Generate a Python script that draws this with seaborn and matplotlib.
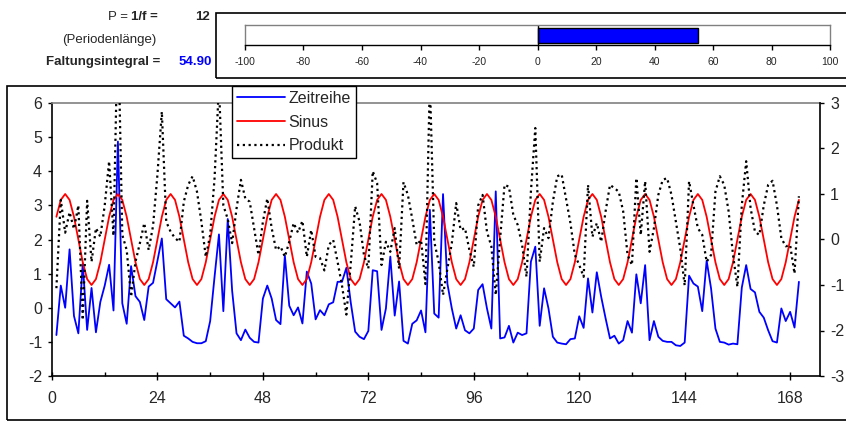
import numpy as np
import pandas as pd
import matplotlib
matplotlib.use("Agg")
import matplotlib.pyplot as plt
import seaborn as sns
from matplotlib.patches import Rectangle
from matplotlib.lines import Line2D
from matplotlib.ticker import MultipleLocator

sns.set_theme(style="white")
plt.rcParams['font.family'] = ['Liberation Sans', 'DejaVu Sans']
plt.rcParams['axes.unicode_minus'] = False

# ---------------- data ----------------
zeitreihe = [
    -0.80, 0.65, 0.00, 1.71, -0.24, -0.75, 1.30, -0.65, 0.58, -0.72,
    0.17, 0.65, 1.26, -0.08, 4.87, 0.13, -0.47, 1.22, 0.34, 0.17,
    -0.36, 0.62, 0.73, 1.38, 2.03, 0.25, 0.13, 0.01, 0.18, -0.82,
    -0.90, -1.00, -1.04, -1.04, -0.98, -0.39, 0.91, 2.15, -0.10, 2.60,
    0.50, -0.75, -0.95, -0.64, -0.88, -1.00, -1.02, 0.27, 0.65, 0.27,
    -0.36, -0.48, 1.53, 0.06, -0.22, 0.01, -0.46, 1.06, 0.71, -0.34,
    -0.07, -0.22, 0.10, 0.16, 0.76, 0.76, 1.17, 0.15, -0.70, -0.85,
    -0.92, -0.68, 1.10, 1.07, -0.65, -0.02, 1.50, -0.23, 0.77, -0.97,
    -1.05, -0.47, -0.37, -0.08, -0.72, 2.87, -0.17, -0.29, 3.33, 0.70,
    -0.02, -0.61, -0.22, -0.66, -0.75, -0.61, 0.52, 0.69, -0.02, -0.61,
    3.41, -0.90, -0.87, -0.53, -1.02, -0.73, -0.80, -0.75, 1.35, 1.79,
    -0.53, 0.57, -0.02, -0.85, -1.02, -1.05, -1.07, -0.92, -0.90, -0.25,
    -0.59, 0.86, -0.14, 1.04, 0.32, -0.31, -0.90, -0.82, -1.05, -0.95,
    -0.39, -0.73, 0.98, 0.13, 1.25, -0.95, -0.39, -0.85, -0.97, -1.00,
    -1.00, -1.10, -1.12, -1.02, 0.94, 0.71, 0.62, -0.10, 1.38, 0.57,
    -0.61, -1.00, -1.02, -1.08, -1.05, -1.07, 0.59, 1.25, 0.55, 0.45,
    -0.12, -0.29, -0.66, -0.98, -1.02, -0.02, -0.39, -0.12, -0.58, 0.76,
]

# one period (P = 12) of the sine
sinus_periode = [0.50, 0.87, 1.00, 0.87, 0.50, 0.00, -0.50, -0.87, -1.00, -0.87, -0.50, 0.00]

produkt = [
    -1.07, 0.87, 0.15, 0.60, 0.23, 0.75, -1.77, 0.85, -0.49, 0.25,
    0.06, 0.75, 1.72, 0.08, 4.87, 0.10, -0.23, -1.26, -0.49, -0.08,
    0.36, -0.23, 0.30, 1.43, 2.81, 0.39, 0.17, 0.03, -0.05, 0.83,
    1.20, 1.39, 1.05, 0.39, -0.38, 0.10, 1.35, 3.40, 0.75, 0.45,
    -0.08, 0.68, 1.31, 0.90, 0.83, 0.25, -0.34, 0.39, 0.90, 0.25,
    -0.23, -0.15, -0.38, -0.05, 0.36, 0.15, 0.41, -0.38, 0.21, -0.38,
    -0.41, -0.68, -0.12, -0.01, -0.49, -1.01, -1.65, -0.53, 0.73, 0.39,
    -0.34, -0.64, 1.50, 1.24, -0.56, -0.05, -0.27, 0.25, -0.64, 1.26,
    0.98, 0.45, -0.12, -0.01, -0.98, 3.50, -0.05, -0.49, -1.22, -0.64,
    -0.08, 0.80, 0.21, 0.25, -0.23, -0.60, 0.75, 0.98, 0.17, -0.15,
    -1.22, 0.03, 1.20, 1.16, 0.54, 0.32, -0.12, -0.82, 1.05, 2.45,
    -0.49, 0.25, 0.03, 0.83, 1.39, 1.43, 0.90, 0.36, -0.34, -0.56,
    -0.82, 1.20, 0.06, 0.36, -0.05, 0.62, 1.20, 1.13, 1.05, 0.62,
    -0.34, -0.56, 1.35, 0.10, 1.28, -0.27, 0.25, 0.98, 1.31, 1.35,
    0.98, 0.39, -0.20, -1.01, 1.28, 0.75, 0.25, 0.10, -0.49, -0.34,
    1.05, 1.39, 1.20, 0.62, -0.34, -1.04, 0.75, 1.72, 0.69, 0.17,
    0.10, 0.75, 1.20, 1.29, 0.75, 0.03, -0.15, -0.12, -0.75, 0.95,
]

periode = 12
faltungsintegral = 54.90
x_ticks = [0, 24, 48, 72, 96, 120, 144, 168]
y_left_ticks = [-2, -1, 0, 1, 2, 3, 4, 5, 6]
y_right_ticks = [-3, -2, -1, 0, 1, 2, 3]
bar_ticks = [-100, -80, -60, -40, -20, 0, 20, 40, 60, 80, 100]

t = np.arange(1, len(zeitreihe) + 1)
sinus = np.resize(np.array(sinus_periode), len(t))
df = pd.DataFrame({"t": t, "Zeitreihe": zeitreihe, "Sinus": sinus, "Produkt": produkt})

# ---------------- figure ----------------
W, H = 846, 421
fig = plt.figure(figsize=(W / 100, H / 100), dpi=100)
fig.patch.set_facecolor("white")

def fx(px):
    return px / W

def fy(py):
    return 1 - py / H

PT = 72 / 100  # points per pixel
DOT = (0, (1.0, 1.6))

# frames
fig.patches.append(Rectangle((fx(7), fy(420)), fx(850) - fx(7), fy(86) - fy(420),
                             transform=fig.transFigure, fill=False, edgecolor="black",
                             linewidth=1.2, zorder=-5))
fig.patches.append(Rectangle((fx(216), fy(78)), fx(850) - fx(216), fy(13) - fy(78),
                             transform=fig.transFigure, fill=False, edgecolor="black",
                             linewidth=1.2, zorder=-5))

# ---------------- main chart ----------------
ax = fig.add_axes([fx(52), fy(376), fx(820) - fx(52), fy(103) - fy(376)])
ax.set_facecolor("none")
ax2 = ax.twinx()

sns.lineplot(data=df, x="t", y="Zeitreihe", ax=ax, color="#0000FF", linewidth=1.3)
sns.lineplot(data=df, x="t", y="Sinus", ax=ax2, color="#FF0000", linewidth=1.3)
sns.lineplot(data=df, x="t", y="Produkt", ax=ax2, color="black", linewidth=1.6,
             linestyle=DOT)

ax.set_xlim(0, 174.8)
ax.set_ylim(-2, 6)
ax2.set_ylim(-3, 3)
ax.set_xlabel("")
ax.set_ylabel("")
ax2.set_ylabel("")

ax.set_xticks(x_ticks)
ax.xaxis.set_minor_locator(MultipleLocator(12))
ax.set_yticks(y_left_ticks)
ax2.set_yticks(y_right_ticks)

for a in (ax, ax2):
    a.grid(False)
    for s in a.spines.values():
        s.set_visible(False)
ax.spines["left"].set_visible(True)
ax.spines["left"].set_color("black")
ax.spines["bottom"].set_visible(True)
ax.spines["bottom"].set_color("black")
ax.spines["top"].set_visible(True)
ax.spines["top"].set_color("#808080")
ax2.spines["right"].set_visible(True)
ax2.spines["right"].set_color("black")
for s in ("left", "bottom", "top"):
    ax.spines[s].set_linewidth(1.2)
ax2.spines["right"].set_linewidth(1.2)

ax.tick_params(axis="x", which="major", direction="inout", length=8 * PT, width=1,
               color="black", labelsize=11.5, pad=11 * PT, bottom=True)
ax.tick_params(axis="x", which="minor", direction="in", length=4 * PT, width=1,
               color="black", bottom=True)
ax.tick_params(axis="y", which="major", direction="out", length=4 * PT, width=1,
               color="black", labelsize=11.5, pad=6 * PT, left=True)
ax2.tick_params(axis="y", which="major", direction="out", length=4 * PT, width=1,
                color="black", labelsize=11.5, pad=6 * PT, right=True)

handles = [Line2D([], [], color="#0000FF", lw=1.3),
           Line2D([], [], color="#FF0000", lw=1.3),
           Line2D([], [], color="black", lw=1.6, linestyle=DOT)]
leg = ax2.legend(handles, ["Zeitreihe", "Sinus", "Produkt"], loc="upper left",
                 bbox_to_anchor=((232 - 52) / 768, (376 - 86) / 273),
                 frameon=True, fancybox=False, framealpha=1, edgecolor="black",
                 fontsize=11.5, handlelength=3.0, handletextpad=0.25, borderpad=0.3,
                 labelspacing=0.55, borderaxespad=0)
leg.get_frame().set_linewidth(1.0)

# ---------------- top bar chart ----------------
axb = fig.add_axes([fx(245), fy(45), fx(830) - fx(245), fy(25) - fy(45)])
sns.barplot(x=[faltungsintegral], y=["F"], orient="h", ax=axb, color="#0000FF",
            saturation=1, edgecolor="black", linewidth=1.0, width=0.75)
axb.set_xlim(-100, 100)
axb.set_ylim(0.5, -0.5)
axb.axvline(0, color="black", linewidth=1.0)
axb.set_xticks(bar_ticks)
axb.set_yticks([])
axb.set_xlabel("")
axb.set_ylabel("")
axb.grid(False)
for s in ("top", "left", "right"):
    axb.spines[s].set_color("#808080")
    axb.spines[s].set_linewidth(1.0)
axb.spines["bottom"].set_color("black")
axb.spines["bottom"].set_linewidth(1.0)
axb.tick_params(axis="x", direction="out", length=5 * PT, width=1, color="black",
                labelsize=7.5, pad=7 * PT, bottom=True)

# ---------------- texts ----------------
fs = 9.5
fig.text(fx(158), fy(17), "1/f =", ha="right", va="center", fontsize=fs, weight="bold")
fig.text(fx(128), fy(17), "P =", ha="right", va="center", fontsize=fs)
fig.text(fx(210), fy(17), f"{periode}", ha="right", va="center", fontsize=fs, weight="bold")
fig.text(fx(156), fy(40), "(Periodenlänge)", ha="right", va="center", fontsize=fs)
fig.text(fx(160), fy(62), "Faltungsintegral =", ha="right", va="center", fontsize=fs,
         weight="bold")
fig.text(fx(212), fy(62), f"{faltungsintegral:.2f}", ha="right", va="center", fontsize=fs,
         weight="bold", color="#0000FF")

fig.savefig("out.png", dpi=100, facecolor="white")
